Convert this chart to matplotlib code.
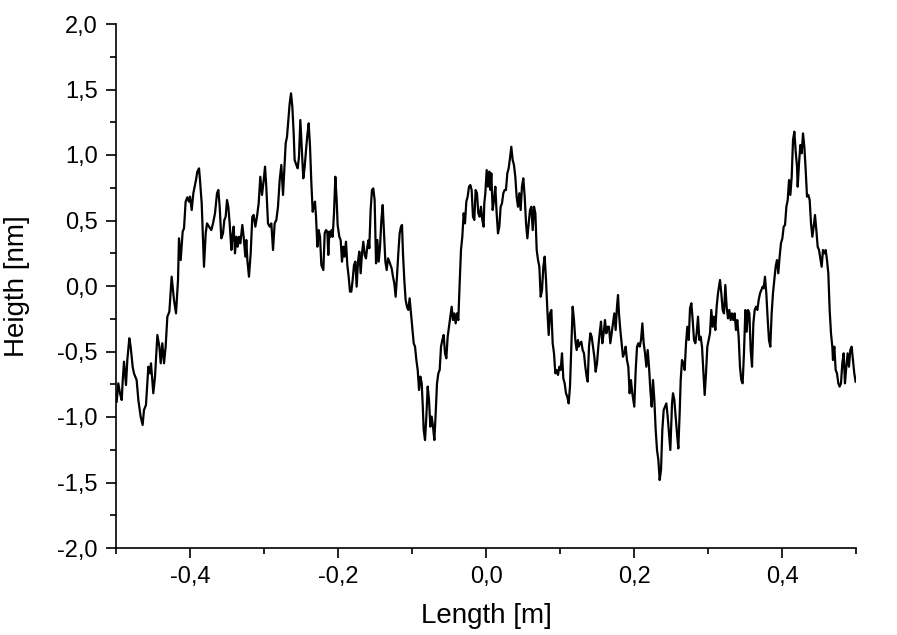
import matplotlib
matplotlib.use("Agg")
import matplotlib.pyplot as plt
from matplotlib.ticker import MultipleLocator, FuncFormatter

# profile
length_m = [
    -0.4991, -0.4969, -0.4946, -0.4923, -0.4910, -0.4892, -0.4865, -0.4847, -0.4820, -0.4802,
    -0.4775, -0.4757, -0.4721, -0.4698, -0.4667, -0.4640, -0.4622, -0.4595, -0.4563, -0.4541,
    -0.4527, -0.4496, -0.4473, -0.4441, -0.4414, -0.4396, -0.4374, -0.4351, -0.4329, -0.4306,
    -0.4279, -0.4248, -0.4216, -0.4189, -0.4162, -0.4149, -0.4126, -0.4099, -0.4081, -0.4059,
    -0.4036, -0.4014, -0.4000, -0.3977, -0.3955, -0.3919, -0.3901, -0.3878, -0.3865, -0.3842,
    -0.3811,
    -0.3788, -0.3770, -0.3743, -0.3712, -0.3689, -0.3662, -0.3635, -0.3617, -0.3599, -0.3577,
    -0.3554, -0.3536, -0.3518, -0.3500, -0.3482, -0.3464, -0.3441, -0.3428, -0.3410, -0.3392,
    -0.3374, -0.3356, -0.3338, -0.3320, -0.3293, -0.3275, -0.3252, -0.3239, -0.3225, -0.3203,
    -0.3180, -0.3158, -0.3140, -0.3117, -0.3095, -0.3072, -0.3050, -0.3027, -0.3004, -0.2986,
    -0.2969, -0.2946, -0.2923, -0.2901, -0.2878, -0.2856, -0.2833, -0.2811, -0.2788, -0.2766,
    -0.2743, -0.2721, -0.2707, -0.2689, -0.2671, -0.2653, -0.2635, -0.2617, -0.2599, -0.2586,
    -0.2563, -0.2545, -0.2527,
    -0.2509, -0.2491, -0.2469, -0.2450, -0.2432, -0.2414, -0.2396, -0.2378, -0.2360, -0.2342,
    -0.2329, -0.2311, -0.2297, -0.2279, -0.2261, -0.2243, -0.2225, -0.2198, -0.2180, -0.2162,
    -0.2144, -0.2131, -0.2117, -0.2099, -0.2086, -0.2072, -0.2054, -0.2036, -0.2018, -0.2005,
    -0.1982, -0.1964, -0.1946, -0.1928, -0.1914, -0.1892, -0.1874, -0.1856, -0.1838, -0.1820,
    -0.1802, -0.1784, -0.1766, -0.1748, -0.1730, -0.1712, -0.1694, -0.1676, -0.1658, -0.1640,
    -0.1622, -0.1604, -0.1586, -0.1577, -0.1559, -0.1541, -0.1523, -0.1505, -0.1486, -0.1468,
    -0.1450, -0.1432, -0.1414, -0.1396, -0.1378, -0.1360, -0.1342, -0.1324, -0.1306,
    -0.1275, -0.1257, -0.1239, -0.1221, -0.1203, -0.1185, -0.1167, -0.1149, -0.1135, -0.1122,
    -0.1104, -0.1086, -0.1068, -0.1050, -0.1032, -0.1014, -0.0995, -0.0977, -0.0959, -0.0941,
    -0.0923, -0.0905, -0.0887, -0.0869, -0.0856, -0.0842, -0.0824, -0.0806, -0.0788, -0.0770,
    -0.0752, -0.0734, -0.0716, -0.0698, -0.0680, -0.0662, -0.0644, -0.0626, -0.0608, -0.0590,
    -0.0572, -0.0554, -0.0536, -0.0518, -0.0500, -0.0482, -0.0464, -0.0446, -0.0428, -0.0410,
    -0.0392, -0.0374, -0.0356, -0.0338, -0.0320, -0.0302, -0.0284, -0.0266, -0.0248, -0.0230,
    -0.0212, -0.0194, -0.0176, -0.0158, -0.0140, -0.0122, -0.0104, -0.0086, -0.0068, -0.0050,
    -0.0032,
    -0.0023, -0.0009, 0.0009, 0.0027, 0.0045, 0.0059, 0.0072, 0.0090, 0.0108, 0.0126,
    0.0144, 0.0162, 0.0180, 0.0198, 0.0216, 0.0234, 0.0252, 0.0270, 0.0288, 0.0306,
    0.0324, 0.0342, 0.0360, 0.0378, 0.0396, 0.0414, 0.0432, 0.0450, 0.0468, 0.0486,
    0.0504, 0.0523, 0.0541, 0.0559, 0.0577, 0.0595, 0.0613, 0.0631, 0.0649, 0.0667,
    0.0685, 0.0703, 0.0721, 0.0739, 0.0757, 0.0775, 0.0793, 0.0811, 0.0829, 0.0847,
    0.0865, 0.0883, 0.0901, 0.0919, 0.0937, 0.0955, 0.0973, 0.0991, 0.1009, 0.1027,
    0.1045, 0.1063, 0.1081, 0.1099, 0.1117, 0.1135, 0.1153, 0.1171, 0.1189, 0.1207,
    0.1225, 0.1243,
    0.1252, 0.1270, 0.1288, 0.1306, 0.1324, 0.1342, 0.1360, 0.1374, 0.1392, 0.1410,
    0.1428, 0.1446, 0.1464, 0.1482, 0.1500, 0.1518, 0.1536, 0.1554, 0.1572, 0.1590,
    0.1608, 0.1626, 0.1644, 0.1662, 0.1680, 0.1698, 0.1716, 0.1734, 0.1752, 0.1770,
    0.1784, 0.1797, 0.1815, 0.1833, 0.1851, 0.1869, 0.1887, 0.1905, 0.1923, 0.1941,
    0.1959, 0.1977, 0.2004, 0.2023, 0.2041, 0.2059, 0.2077, 0.2095, 0.2113, 0.2131,
    0.2149, 0.2167, 0.2185, 0.2203, 0.2221, 0.2239, 0.2257, 0.2275, 0.2293, 0.2311,
    0.2329, 0.2347, 0.2365, 0.2383, 0.2401, 0.2419, 0.2437, 0.2455, 0.2473, 0.2491,
    0.2514, 0.2527, 0.2545, 0.2563, 0.2581, 0.2599, 0.2617, 0.2631, 0.2649, 0.2667,
    0.2685, 0.2703, 0.2721, 0.2739, 0.2757, 0.2775, 0.2793, 0.2811, 0.2829, 0.2847,
    0.2865, 0.2883, 0.2901, 0.2919, 0.2937, 0.2955, 0.2973, 0.2991, 0.3009, 0.3027,
    0.3045, 0.3063, 0.3081, 0.3099, 0.3117, 0.3135, 0.3162, 0.3180, 0.3198, 0.3216,
    0.3234, 0.3252, 0.3270, 0.3288, 0.3306, 0.3324, 0.3342, 0.3360, 0.3378, 0.3396,
    0.3414, 0.3432, 0.3450, 0.3468, 0.3486, 0.3505, 0.3523, 0.3541, 0.3559, 0.3577,
    0.3595, 0.3613, 0.3631, 0.3649, 0.3667, 0.3685, 0.3703, 0.3721, 0.3739,
    0.3752, 0.3770, 0.3788, 0.3806, 0.3824, 0.3842, 0.3860, 0.3878, 0.3896, 0.3914,
    0.3932, 0.3950, 0.3968, 0.3986, 0.4005, 0.4023, 0.4041, 0.4059, 0.4077, 0.4095,
    0.4113, 0.4131, 0.4149, 0.4167, 0.4185, 0.4203, 0.4212, 0.4230, 0.4248, 0.4266,
    0.4284, 0.4302, 0.4320, 0.4338, 0.4356, 0.4374, 0.4392, 0.4410, 0.4428, 0.4446,
    0.4464, 0.4482, 0.4500, 0.4518, 0.4536, 0.4554, 0.4572, 0.4590, 0.4608, 0.4626,
    0.4644, 0.4662, 0.4680, 0.4689, 0.4707, 0.4725, 0.4743, 0.4761, 0.4779, 0.4797,
    0.4815, 0.4833, 0.4851, 0.4869, 0.4887, 0.4905, 0.4923, 0.4941, 0.4959, 0.4977,
    0.4995,
]

height_nm = [
    -0.883, -0.743, -0.819, -0.870, -0.730, -0.578, -0.756, -0.565, -0.399, -0.463,
    -0.616, -0.667, -0.718, -0.870, -0.997, -1.061, -0.947, -0.908, -0.616, -0.667,
    -0.590, -0.819, -0.692, -0.374, -0.463, -0.590, -0.437, -0.590, -0.463, -0.234,
    -0.196, 0.071, -0.107, -0.209, 0.046, 0.364, 0.198, 0.415, 0.440, 0.644,
    0.677, 0.644, 0.682, 0.580, 0.708, 0.809, 0.873, 0.898, 0.809, 0.631,
    0.147,
    0.402, 0.478, 0.453, 0.427, 0.478, 0.555, 0.708, 0.733, 0.605, 0.364,
    0.402, 0.504, 0.529, 0.656, 0.605, 0.478, 0.275, 0.376, 0.453, 0.249,
    0.376, 0.300, 0.376, 0.326, 0.466, 0.376, 0.224, 0.351, 0.198, 0.071,
    0.249, 0.529, 0.542, 0.453, 0.529, 0.631, 0.834, 0.695, 0.809, 0.911,
    0.758, 0.478, 0.453, 0.478, 0.275, 0.478, 0.504, 0.605, 0.809, 0.924,
    0.695, 0.936, 1.089, 1.140, 1.267, 1.394, 1.471, 1.369, 1.165, 0.962,
    0.924, 0.898, 0.987,
    1.267, 1.063, 0.822, 0.911, 1.038, 1.153, 1.242, 1.063, 0.784, 0.567,
    0.605, 0.644, 0.529, 0.300, 0.427, 0.376, 0.160, 0.122, 0.402, 0.427,
    0.415, 0.237, 0.415, 0.376, 0.427, 0.376, 0.555, 0.834, 0.656, 0.466,
    0.376, 0.351, 0.186, 0.300, 0.224, 0.338, 0.160, 0.071, -0.043, -0.043,
    0.046, 0.160, 0.186, -0.005, 0.186, 0.262, 0.097, 0.249, 0.338, 0.237,
    0.211, 0.300, 0.351, 0.288, 0.580, 0.733, 0.745, 0.656, 0.173, 0.351,
    0.186, 0.300, 0.504, 0.618, 0.402, 0.186, 0.122, 0.211, 0.186,
    0.135, 0.071, 0.020, -0.082, 0.071, 0.249, 0.402, 0.453, 0.466, 0.249,
    0.046, -0.107, -0.158, -0.183, -0.094, -0.209, -0.336, -0.437, -0.463, -0.565,
    -0.641, -0.794, -0.692, -0.743, -0.896, -1.099, -1.176, -0.997, -0.768, -0.870,
    -1.074, -0.997, -1.074, -1.176, -0.972, -0.743, -0.667, -0.641, -0.463, -0.412,
    -0.374, -0.514, -0.552, -0.387, -0.311, -0.234, -0.158, -0.260, -0.209, -0.285,
    -0.209, -0.260, 0.020, 0.275, 0.376, 0.555, 0.478, 0.644, 0.682, 0.758,
    0.771, 0.733, 0.529, 0.504, 0.733, 0.708, 0.555, 0.529, 0.605, 0.504,
    0.453,
    0.631, 0.708, 0.885, 0.758, 0.873, 0.733, 0.860, 0.580, 0.656, 0.758,
    0.555, 0.402, 0.453, 0.605, 0.631, 0.708, 0.733, 0.733, 0.860, 0.898,
    0.975, 1.063, 0.962, 0.924, 0.834, 0.682, 0.605, 0.708, 0.580, 0.758,
    0.822, 0.682, 0.478, 0.364, 0.478, 0.580, 0.605, 0.427, 0.605, 0.555,
    0.275, 0.198, 0.147, -0.082, -0.031, 0.147, 0.224, 0.046, -0.183, -0.374,
    -0.209, -0.183, -0.437, -0.514, -0.667, -0.641, -0.679, -0.616, -0.641, -0.514,
    -0.705, -0.743, -0.819, -0.845, -0.896, -0.768, -0.463, -0.158, -0.260, -0.412,
    -0.489, -0.412,
    -0.463, -0.437, -0.425, -0.489, -0.514, -0.616, -0.692, -0.730, -0.463, -0.361,
    -0.387, -0.463, -0.540, -0.654, -0.590, -0.463, -0.361, -0.272, -0.437, -0.361,
    -0.260, -0.361, -0.311, -0.311, -0.437, -0.361, -0.285, -0.209, -0.336, -0.158,
    -0.069, -0.209, -0.336, -0.437, -0.540, -0.514, -0.463, -0.565, -0.616, -0.819,
    -0.718, -0.819, -0.921, -0.641, -0.463, -0.437, -0.463, -0.412, -0.285, -0.437,
    -0.514, -0.616, -0.489, -0.616, -0.794, -0.921, -0.718, -0.870, -1.099, -1.252,
    -1.328, -1.481, -1.405, -1.099, -0.947, -0.921, -0.896, -0.997, -1.125, -1.252,
    -0.896, -0.819, -0.870, -0.997, -1.125, -1.240, -0.972, -0.718, -0.565, -0.590,
    -0.641, -0.437, -0.311, -0.412, -0.170, -0.132, -0.260, -0.412, -0.437, -0.361,
    -0.234, -0.412, -0.387, -0.463, -0.641, -0.832, -0.667, -0.463, -0.412, -0.361,
    -0.183, -0.311, -0.234, -0.336, -0.158, -0.056, 0.046, -0.056, -0.183, -0.209,
    0.008, -0.158, -0.247, -0.183, -0.260, -0.209, -0.260, -0.209, -0.336, -0.260,
    -0.387, -0.616, -0.718, -0.743, -0.514, -0.183, -0.349, -0.183, -0.209, -0.489,
    -0.616, -0.285, -0.183, -0.158, -0.183, -0.107, -0.056, -0.031, -0.005,
    -0.018, 0.071, -0.056, -0.247, -0.412, -0.463, -0.209, -0.056, 0.046, 0.147,
    0.198, 0.097, 0.224, 0.326, 0.364, 0.453, 0.466, 0.605, 0.656, 0.809,
    0.695, 0.834, 1.115, 1.178, 1.025, 0.911, 0.758, 0.936, 1.076, 1.013,
    1.165, 1.063, 0.885, 0.682, 0.695, 0.656, 0.478, 0.376, 0.453, 0.542,
    0.427, 0.300, 0.275, 0.211, 0.147, 0.275, 0.249, 0.275, 0.198, 0.097,
    -0.183, -0.361, -0.463, -0.565, -0.463, -0.641, -0.667, -0.743, -0.768, -0.743,
    -0.590, -0.514, -0.743, -0.616, -0.514, -0.616, -0.489, -0.463, -0.565, -0.667,
    -0.730,
]

x_range = (-0.5, 0.5)
y_range = (-2.0, 2.0)


def comma(v, pos):
    return f"{v:.1f}".replace(".", ",")


plt.rcParams["font.family"] = ["Liberation Sans", "DejaVu Sans"]

fig = plt.figure(figsize=(8.97, 6.35), dpi=100)
ax = fig.add_axes([116 / 897, 1 - 548 / 635, 740 / 897, 524 / 635])

ax.plot(length_m, height_nm, color="black", linewidth=1.6)

ax.set_xlim(*x_range)
ax.set_ylim(*y_range)

ax.xaxis.set_major_locator(MultipleLocator(0.2))
ax.xaxis.set_minor_locator(MultipleLocator(0.1))
ax.yaxis.set_major_locator(MultipleLocator(0.5))
ax.yaxis.set_minor_locator(MultipleLocator(0.25))
ax.xaxis.set_major_formatter(FuncFormatter(comma))
ax.yaxis.set_major_formatter(FuncFormatter(comma))

for side in ("top", "right"):
    ax.spines[side].set_visible(False)
for side in ("left", "bottom"):
    ax.spines[side].set_linewidth(1.2)

ax.tick_params(which="both", direction="out", width=1.2, colors="black")
ax.tick_params(which="major", length=7, labelsize=17, pad=6)
ax.tick_params(which="minor", length=4)

ax.set_xlabel("Length [m]", fontsize=20)
ax.set_ylabel("Heigth [nm]", fontsize=20)
ax.xaxis.set_label_coords(0.5, -0.105)
ax.yaxis.set_label_coords(-0.116, 0.5)

fig.savefig("out.png", dpi=100)
